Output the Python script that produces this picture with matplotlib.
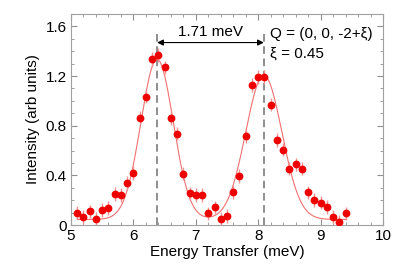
import numpy as np
import matplotlib
matplotlib.use("Agg")
import matplotlib.pyplot as plt
from matplotlib.ticker import MultipleLocator

plt.rcParams['font.family'] = ['Liberation Sans', 'DejaVu Sans']

# measured points
energy = [5.1, 5.2, 5.3, 5.4, 5.5, 5.6, 5.7, 5.8, 5.9, 6.0,
          6.1, 6.2, 6.3, 6.4, 6.5, 6.6, 6.7, 6.8, 6.9, 7.0,
          7.1, 7.2, 7.3, 7.4, 7.5, 7.6, 7.7, 7.8, 7.9, 8.0,
          8.1, 8.2, 8.3, 8.4, 8.5, 8.6, 8.7, 8.8, 8.9, 9.0,
          9.1, 9.2, 9.3, 9.4]
intensity = [0.10, 0.065, 0.11, 0.048, 0.12, 0.137, 0.25, 0.24, 0.34, 0.42,
             0.86, 1.035, 1.34, 1.37, 1.27, 0.86, 0.737, 0.415, 0.255, 0.24,
             0.24, 0.094, 0.142, 0.051, 0.072, 0.268, 0.397, 0.718, 1.13, 1.19,
             1.19, 0.97, 0.685, 0.608, 0.455, 0.488, 0.455, 0.263, 0.204, 0.18,
             0.145, 0.062, 0.022, 0.094]
error = [0.055] * len(energy)

# fit parameters (two gaussians on a flat background)
fit_centers = [6.38, 8.09]
fit_amps = [1.29, 1.16]
fit_sigmas = [0.26, 0.29]
fit_bg = 0.045
fit_range = (5.1, 9.4)

peak_lines = [6.38, 8.09]
split_label = "1.71 meV"

fig = plt.figure(figsize=(4.09, 2.79), dpi=100)
ax = fig.add_axes([0.1736, 0.1935, 0.7628, 0.7563])

xf = np.linspace(fit_range[0], fit_range[1], 400)
yf = np.full_like(xf, fit_bg)
for c, a, s in zip(fit_centers, fit_amps, fit_sigmas):
    yf += a * np.exp(-(xf - c) ** 2 / (2 * s ** 2))
ax.plot(xf, yf, color='#f07070', lw=0.8, zorder=2)

ax.errorbar(energy, intensity, yerr=error, fmt='o', color='#ee0000',
            ms=4.6, ecolor='#f39090', elinewidth=1.0, capsize=0, zorder=3)

for xl in peak_lines:
    ax.plot([xl, xl], [0, 1.56], ls=(0, (5, 3)), color='#707070', lw=1.1, zorder=1)

ax.annotate('', xy=(peak_lines[0], 1.47), xytext=(peak_lines[1], 1.47),
            arrowprops=dict(arrowstyle='<|-|>', color='black', lw=0.8,
                            mutation_scale=9, shrinkA=0, shrinkB=0))
ax.text(sum(peak_lines) / 2, 1.5, split_label, ha='center', va='bottom', fontsize=11)
ax.text(8.19, 1.54, 'Q = (0, 0, -2+ξ)', ha='left', va='center', fontsize=11)
ax.text(8.19, 1.38, 'ξ = 0.45', ha='left', va='center', fontsize=11)

ax.set_xlim(5, 10)
ax.set_ylim(0, 1.7)
ax.xaxis.set_major_locator(MultipleLocator(1))
ax.xaxis.set_minor_locator(MultipleLocator(0.2))
ax.yaxis.set_major_locator(MultipleLocator(0.4))
ax.yaxis.set_minor_locator(MultipleLocator(0.1))
ax.set_yticks([0, 0.4, 0.8, 1.2, 1.6])
ax.set_yticklabels(['0', '0.4', '0.8', '1.2', '1.6'])
ax.tick_params(which='both', direction='in', top=True, right=True,
               color='#909090', labelsize=11, pad=3)
ax.tick_params(which='major', length=4)
ax.tick_params(which='minor', length=2.5)
for sp in ax.spines.values():
    sp.set_color('#a0a0a0')

ax.set_xlabel('Energy Transfer (meV)', fontsize=11, labelpad=1)
ax.set_ylabel('Intensity (arb units)', fontsize=11, labelpad=4)

fig.savefig('out.png', dpi=100)
